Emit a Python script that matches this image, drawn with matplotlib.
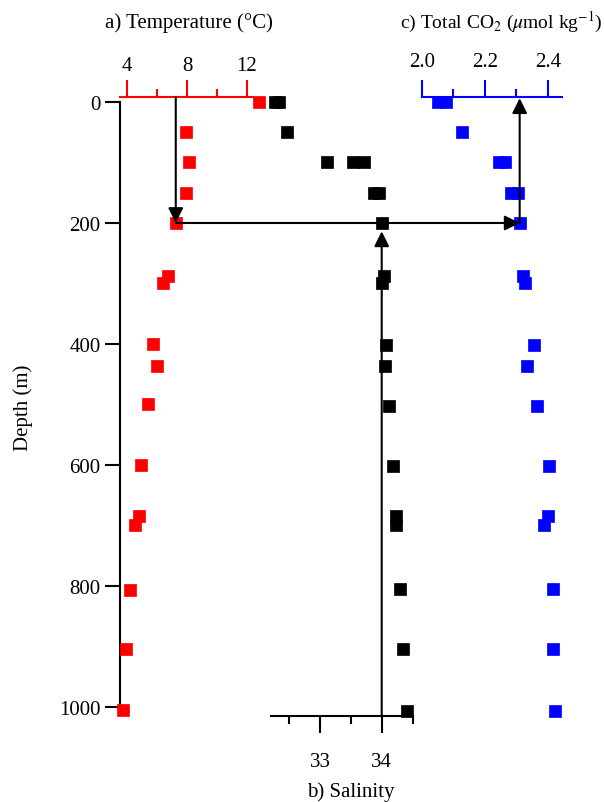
import numpy as np
import matplotlib.pyplot as plt

plt.rcParams['font.family'] = ['Liberation Serif', 'DejaVu Serif']
plt.rcParams['mathtext.fontset'] = 'stix'
plt.rcParams['font.size'] = 15

# a) temperature (deg C) vs depth (m)
temp_depth = [0, 50, 100, 150, 200, 287, 300, 400, 436, 500, 600, 684, 700, 806, 904, 1005]
temp_val = [12.8, 7.9, 8.1, 7.9, 7.25, 6.7, 6.4, 5.75, 6.0, 5.4, 4.9, 4.8, 4.55, 4.2, 3.9, 3.7]

# b) salinity vs depth
sal_depth = [0, 0, 50, 100, 100, 100, 150, 150, 200, 287, 300, 402, 437, 502, 601, 684, 700, 805, 904, 1006]
sal_val = [32.27, 32.34, 32.47, 33.12, 33.53, 33.72, 33.87, 33.95, 34.0, 34.04, 34.0,
           34.07, 34.06, 34.12, 34.18, 34.23, 34.23, 34.29, 34.35, 34.41]

# c) total CO2 vs depth
co2_depth = [0, 0, 50, 100, 100, 150, 150, 200, 287, 300, 402, 437, 502, 601, 684, 700, 805, 904, 1006]
co2_val = [2.052, 2.076, 2.127, 2.244, 2.266, 2.283, 2.305, 2.311, 2.323, 2.328,
           2.356, 2.333, 2.367, 2.405, 2.40, 2.388, 2.418, 2.418, 2.423]

depth_ticks = [0, 200, 400, 600, 800, 1000]
temp_ticks = [4, 8, 12]
temp_minor = [6, 10]
sal_ticks = [33, 34]
sal_minor = [32.5, 33.5, 34.5]
co2_ticks = [2.0, 2.2, 2.4]
co2_minor = [2.1, 2.3]

ARROW_DEPTH = 200

fig = plt.figure(figsize=(6.04, 8.03), dpi=100)
ax = fig.add_axes([0.19868, 0.10710, 0.75331, 0.77086])   # salinity (bottom) + depth
axT = ax.twiny()                                          # temperature (top)
axC = ax.twiny()                                          # CO2 (top)

ax.set_ylim(1014.9, -8.26)
ax.set_xlim(29.758, 37.133)
axT.set_xlim(3.533, 33.867)
axC.set_xlim(1.0422, 2.4867)

# marks
ms = 8.5
ax.plot(sal_val, sal_depth, 's', color='black', ms=ms, mew=0.5, clip_on=False)
axT.plot(temp_val, temp_depth, 's', color='#ff0000', ms=ms, mew=0.5, clip_on=False)
axC.plot(co2_val, co2_depth, 's', color='#0000ff', ms=ms, mew=0.5, clip_on=False)

# spines
for s in ['top', 'right']:
    ax.spines[s].set_visible(False)
ax.spines['left'].set_bounds(0, 1008)
ax.spines['left'].set_linewidth(1.5)
ax.spines['bottom'].set_bounds(32.2, 34.5)
ax.spines['bottom'].set_linewidth(1.5)
for a, col, lo, hi in [(axT, '#ff0000', 3.533, 12.4), (axC, '#0000ff', 2.0, 2.444)]:
    for s in ['left', 'right', 'bottom']:
        a.spines[s].set_visible(False)
    a.spines['top'].set_bounds(lo, hi)
    a.spines['top'].set_color(col)
    a.spines['top'].set_linewidth(1.5)

# ticks
ax.set_yticks(depth_ticks)
ax.tick_params(axis='y', direction='out', length=11, width=1.5, pad=3)
ax.set_xticks(sal_ticks)
ax.set_xticks(sal_minor, minor=True)
ax.tick_params(axis='x', which='major', length=12, width=1.5, pad=14)
ax.tick_params(axis='x', which='minor', length=6, width=1.5)

axT.set_xticks(temp_ticks)
axT.set_xticks(temp_minor, minor=True)
axT.tick_params(axis='x', which='major', length=12, width=1.5, pad=4, color='#ff0000', labelcolor='black')
axT.tick_params(axis='x', which='minor', length=6, width=1.5, color='#ff0000')

axC.set_xticks(co2_ticks)
axC.set_xticklabels(['2.0', '2.2', '2.4'])
axC.set_xticks(co2_minor, minor=True)
axC.tick_params(axis='x', which='major', length=12, width=1.5, pad=7, color='#0000ff', labelcolor='black')
axC.tick_params(axis='x', which='minor', length=6, width=1.5, color='#0000ff')

# titles
W, H = 604, 803
fig.text(189 / W, 1 - 28 / H, 'a) Temperature (°C)', ha='center', va='baseline')
fig.text(501 / W, 1 - 28 / H, r'c) Total CO$_2$ ($\mu$mol kg$^{-1}$)', ha='center', va='baseline',
         fontsize=14)
fig.text(351 / W, 1 - 797 / H, 'b) Salinity', ha='center', va='baseline')
fig.text(23 / W, 1 - 408 / H, 'Depth (m)', ha='center', va='center', rotation=90)

# arrows linking the 200 m values
t200 = temp_val[temp_depth.index(ARROW_DEPTH)]
s200 = sal_val[sal_depth.index(ARROW_DEPTH)]
c200 = co2_val[co2_depth.index(ARROW_DEPTH)]
top, bottom = ax.get_ylim()[1], ax.get_ylim()[0]
ap = dict(arrowstyle='-|>,head_length=0.9,head_width=0.45', mutation_scale=10,
          lw=1.5, color='black', shrinkA=0, shrinkB=0)

axT.annotate('', xy=(t200, ARROW_DEPTH), xytext=(t200, top), arrowprops=ap)
axC.annotate('', xy=(c200, ARROW_DEPTH), xycoords=axC.transData,
             xytext=(t200, ARROW_DEPTH), textcoords=axT.transData, arrowprops=ap)
axC.annotate('', xy=(c200, top + 2), xytext=(c200, ARROW_DEPTH), arrowprops=ap)
ap_s = dict(ap, shrinkB=6)
axC.annotate('', xy=(s200, ARROW_DEPTH), xycoords=ax.transData,
             xytext=(s200, bottom), textcoords=ax.transData, arrowprops=ap_s)

fig.savefig('out.png', dpi=100)
